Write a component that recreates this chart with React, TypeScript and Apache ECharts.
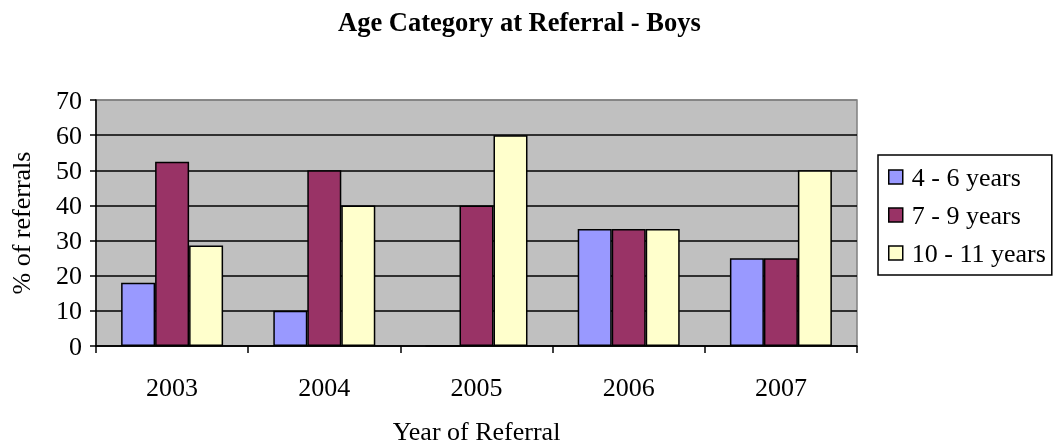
import React, { useEffect, useRef } from "react";
import * as echarts from "echarts";

const categories = ["2003", "2004", "2005", "2006", "2007"];
const age4to6 = [18, 10, 0, 33.3, 25];
const age7to9 = [52.4, 50, 40, 33.3, 25];
const age10to11 = [28.6, 40, 60, 33.3, 50];
const seriesNames = ["4 - 6 years", "7 - 9 years", "10 - 11 years"];

const FONT = "'Liberation Serif', 'Times New Roman', serif";

export default function App() {
  const ref = useRef<HTMLDivElement>(null);
  useEffect(() => {
    const chart = echarts.init(ref.current!, null, { renderer: "svg" });
    const mk = (name: string, data: number[], color: string) => ({
      name,
      type: "bar",
      data,
      barGap: "0%",
      barCategoryGap: "33%",
      itemStyle: { color, borderColor: "#000", borderWidth: 1.5 },
    });
    chart.setOption({
      animation: false,
      textStyle: { fontFamily: FONT },
      title: {
        text: "Age Category at Referral - Boys",
        left: 333,
        top: 3,
        textStyle: { fontFamily: FONT, fontSize: 26.5, fontWeight: "bold", color: "#000" },
      },
      grid: {
        left: 96,
        right: 200,
        top: 100,
        bottom: 99,
        containLabel: false,
        outerBoundsMode: "none",
        show: true,
        backgroundColor: "#c0c0c0",
        borderColor: "#808080",
        borderWidth: 1.5,
      },
      legend: {
        orient: "vertical",
        left: 878,
        top: 155,
        padding: [9, 6, 9, 10],
        itemGap: 12,
        itemWidth: 14,
        itemHeight: 14,
        icon: "rect",
        backgroundColor: "#fff",
        borderColor: "#000",
        borderWidth: 1.5,
        textStyle: { fontFamily: FONT, fontSize: 26, color: "#000", padding: [0, 0, 0, 4] },
        itemStyle: { borderColor: "#000", borderWidth: 1.5 },
        data: seriesNames,
      },
      xAxis: {
        type: "category",
        data: categories,
        name: "Year of Referral",
        nameLocation: "middle",
        nameGap: 72,
        nameTextStyle: { fontFamily: FONT, fontSize: 26, color: "#000" },
        axisLine: { lineStyle: { color: "#000", width: 1.5 } },
        axisTick: { show: true, length: 7, lineStyle: { color: "#000", width: 1.5 } },
        axisLabel: { fontFamily: FONT, fontSize: 26, color: "#000", margin: 28 },
      },
      yAxis: {
        type: "value",
        min: 0,
        max: 70,
        interval: 10,
        name: "% of referrals",
        nameLocation: "middle",
        nameGap: 62,
        nameRotate: 90,
        nameTextStyle: { fontFamily: FONT, fontSize: 26, color: "#000" },
        axisLine: { show: true, lineStyle: { color: "#000", width: 1.5 } },
        axisTick: { show: true, length: 6, lineStyle: { color: "#000", width: 1.5 } },
        axisLabel: { fontFamily: FONT, fontSize: 26, color: "#000", margin: 14 },
        splitLine: {
          show: true,
          lineStyle: {
            color: ["#000", "#000", "#000", "#000", "#000", "#000", "#000", "#808080"],
            width: 1.5,
          },
        },
      },
      series: [
        mk(seriesNames[0], age4to6, "#9999ff"),
        mk(seriesNames[1], age7to9, "#993366"),
        mk(seriesNames[2], age10to11, "#ffffcc"),
      ],
    });
    return () => chart.dispose();
  }, []);
  return (
    <div
      ref={ref}
      style={{ position: "fixed", left: 0, top: 0, width: 1057, height: 445 }}
    />
  );
}
